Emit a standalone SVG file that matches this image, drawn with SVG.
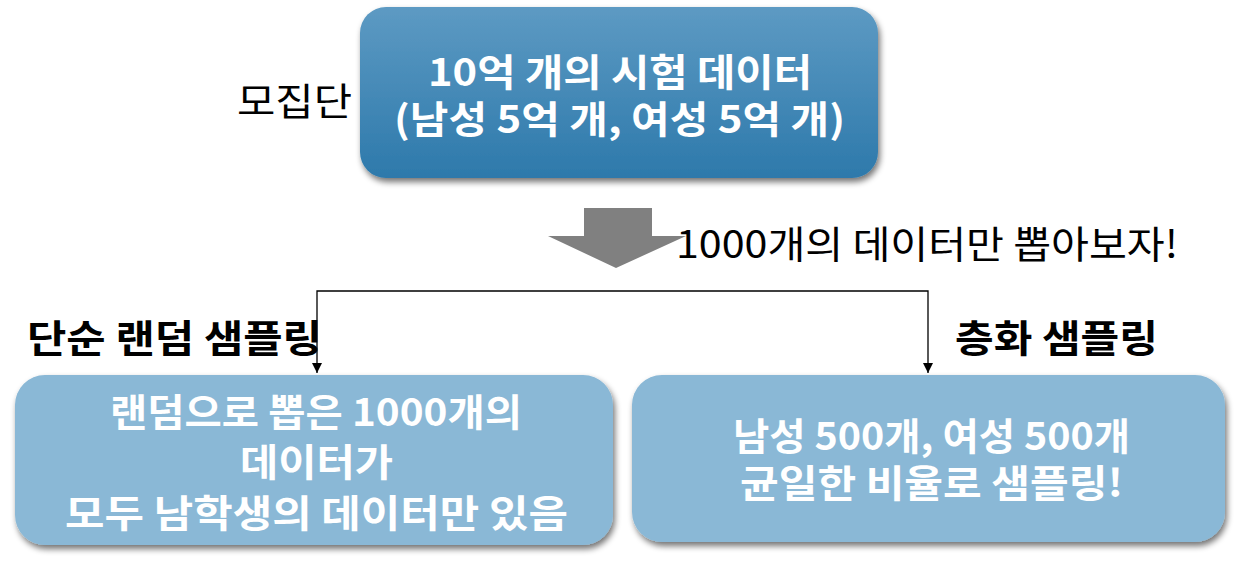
<svg xmlns="http://www.w3.org/2000/svg" width="1235" height="572" viewBox="0 0 1235 572">
<defs>
<linearGradient id="topGrad" x1="0" y1="0" x2="0" y2="1">
<stop offset="0" stop-color="#5d9ac3"/>
<stop offset="1" stop-color="#2d79ab"/>
</linearGradient>
<filter id="shadow" x="-10%" y="-10%" width="125%" height="130%">
<feGaussianBlur in="SourceAlpha" stdDeviation="3"/>
<feOffset dx="2" dy="4" result="b"/>
<feComponentTransfer><feFuncA type="linear" slope="0.55"/></feComponentTransfer>
<feMerge><feMergeNode/><feMergeNode in="SourceGraphic"/></feMerge>
</filter>
<marker id="arrow" viewBox="0 0 10 10" refX="10" refY="5" markerWidth="10" markerHeight="10" markerUnits="userSpaceOnUse" orient="auto-start-reverse">
<path d="M0,0 L10,5 L0,10 z" fill="#000"/>
</marker>
</defs>
<style>
.kr { font-family: "Noto Sans CJK KR", "Noto Sans", sans-serif; }
.wb { fill: #ffffff; font-weight: bold; font-size: 38px; }
.bk { fill: #000000; font-size: 38px; }
.bb { fill: #000000; font-weight: bold; font-size: 38px; }
.conn { fill: none; stroke: #000; stroke-width: 1.3; }
</style>

<g id="population">
<rect x="360" y="7" width="518" height="171" rx="26" fill="url(#topGrad)" filter="url(#shadow)"/>
<text class="kr wb" x="428" y="86" textLength="384" lengthAdjust="spacingAndGlyphs">10억 개의 시험 데이터</text>
<text class="kr wb" x="394" y="133" textLength="451" lengthAdjust="spacingAndGlyphs">(남성 5억 개, 여성 5억 개)</text>
</g>

<g id="population-label">
<text class="kr bk" x="237" y="115" textLength="115" lengthAdjust="spacingAndGlyphs">모집단</text>
</g>

<g id="block-arrow">
<polygon points="584,208 652,208 652,236 686,236 616,268 548,236 584,236" fill="#808080"/>
</g>

<g id="arrow-label">
<text class="kr bk" x="676" y="258" textLength="502" lengthAdjust="spacingAndGlyphs">1000개의 데이터만 뽑아보자!</text>
</g>

<g id="connectors">
<path class="conn" d="M317,373 L317,291 L928,291 L928,373" marker-start="url(#arrow)" marker-end="url(#arrow)"/>
</g>

<g id="simple-random-label">
<text class="kr bb" x="27" y="352" textLength="295" lengthAdjust="spacingAndGlyphs">단순 랜덤 샘플링</text>
</g>

<g id="stratified-label">
<text class="kr bb" x="955" y="352" textLength="203" lengthAdjust="spacingAndGlyphs">층화 샘플링</text>
</g>

<g id="simple-random-box">
<rect x="15" y="375" width="598" height="170" rx="30" fill="#8ab8d6" filter="url(#shadow)"/>
<text class="kr wb" x="110" y="426" textLength="412" lengthAdjust="spacingAndGlyphs">랜덤으로 뽑은 1000개의</text>
<text class="kr wb" x="240" y="476" textLength="153" lengthAdjust="spacingAndGlyphs">데이터가</text>
<text class="kr wb" x="65" y="527" textLength="503" lengthAdjust="spacingAndGlyphs">모두 남학생의 데이터만 있음</text>
</g>

<g id="stratified-box">
<rect x="632" y="375" width="593" height="167" rx="30" fill="#8ab8d6" filter="url(#shadow)"/>
<text class="kr wb" x="733" y="450" textLength="397" lengthAdjust="spacingAndGlyphs">남성 500개, 여성 500개</text>
<text class="kr wb" x="740" y="497" textLength="383" lengthAdjust="spacingAndGlyphs">균일한 비율로 샘플링!</text>
</g>
</svg>
